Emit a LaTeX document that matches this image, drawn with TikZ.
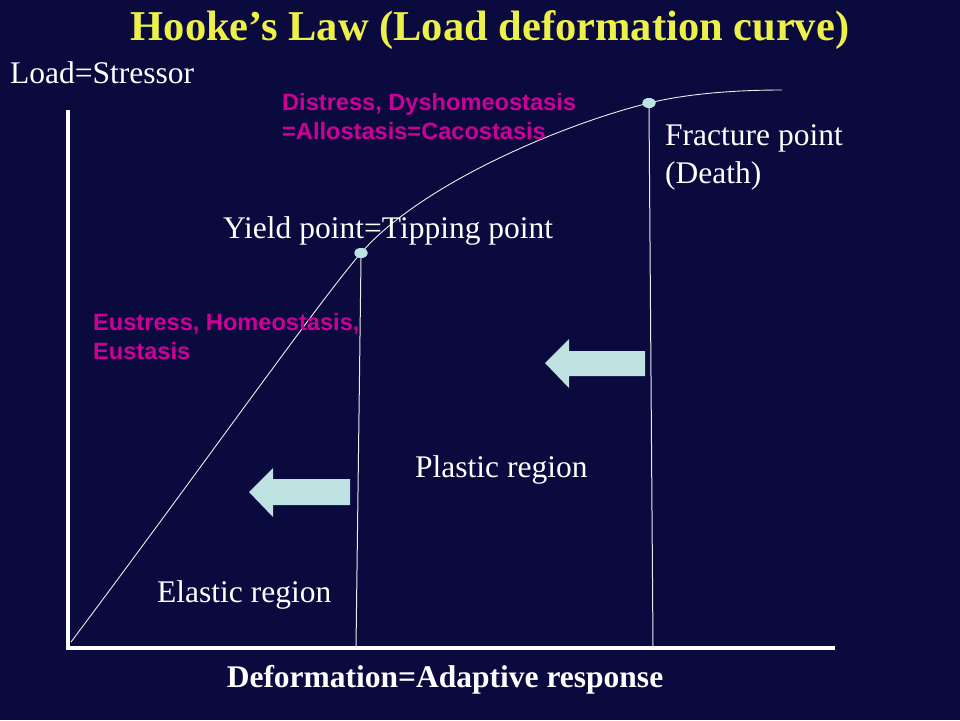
\documentclass[tikz,border=0pt]{standalone}
\usepackage{fontspec}
\setmainfont{Liberation Serif}
\newfontfamily\arialfont{Liberation Sans}
\definecolor{bgnavy}{RGB}{10,10,62}
\definecolor{titleyellow}{RGB}{236,240,72}
\definecolor{magtext}{RGB}{204,0,153}
\definecolor{paleblue}{RGB}{190,225,225}
\tikzset{
  serifw/.style={text=white,inner sep=0pt,anchor=base west,font=\fontsize{31.5}{36}\selectfont},
  magw/.style={text=magtext,inner sep=0pt,anchor=base west,font=\arialfont\bfseries\fontsize{23.6}{28}\selectfont},
  dotmark/.style={ellipse,fill=paleblue,minimum width=13pt,minimum height=10pt,inner sep=0pt},
  thinline/.style={draw=white!85!gray,line width=1pt},
  axisline/.style={draw=white,line width=3.2pt},
  blockarrow/.style={fill=paleblue}
}
\usetikzlibrary{shapes.geometric}
\begin{document}
\begin{tikzpicture}[x=1pt,y=-1pt]
\fill[bgnavy] (0,0) rectangle (960,720);
\useasboundingbox (0,0) rectangle (960,720);
% title
\node[text=titleyellow,inner sep=0pt,anchor=base,font=\bfseries\fontsize{42.5}{48}\selectfont] (title) at (490,40) {Hooke’s Law (Load deformation curve)};
% axes
\coordinate (ytop) at (68,110);
\coordinate (orig) at (68,648);
\coordinate (xend) at (835,648);
\draw[axisline] (ytop) -- (orig) -- (xend);
% points
\node[dotmark] (yield) at (361,253) {};
\node[dotmark] (fract) at (649,103) {};
\coordinate (c0) at (71,642);
\coordinate (cend) at (782,90);
\coordinate (yfoot) at (356,647);
\coordinate (ffoot) at (653,647);
% curve
\draw[thinline,line width=0.9pt] (c0) .. controls (200,470) and (320,300) .. (yield.center)
  .. controls (420,185) and (560,125) .. (fract.center)
  .. controls (690,93) and (740,90) .. (cend);
\draw[thinline] (yield.south) -- (yfoot);
\draw[thinline] (fract.south) -- (ffoot);
% redraw dots above curve
\node[dotmark] at (yield) {};
\node[dotmark] at (fract) {};
% labels
\node[serifw] (load) at (10,83) {Load=Stressor};
\node[magw] (dis1) at (282,110) {Distress, Dyshomeostasis};
\node[magw] (dis2) at (282,139) {=Allostasis=Cacostasis};
\node[serifw] (fr1) at (665,145) {Fracture point};
\node[serifw] (fr2) at (665,183) {(Death)};
\node[serifw] (yl) at (223,238) {Yield point=Tipping point};
\node[magw] (eu1) at (93,330) {Eustress, Homeostasis,};
\node[magw] (eu2) at (93,359) {Eustasis};
\node[serifw] (pl) at (415,477) {Plastic region};
\node[serifw] (el) at (157,602) {Elastic region};
\node[text=white,inner sep=0pt,anchor=base,font=\bfseries\fontsize{31.5}{36}\selectfont] (xl) at (445,687) {Deformation=Adaptive response};
% block arrows
\fill[blockarrow] (545,363) -- (569,339) -- (569,351) -- (645,351) -- (645,376) -- (569,376) -- (569,388) -- cycle;
\fill[blockarrow] (249,492) -- (273,468) -- (273,479) -- (350,479) -- (350,505) -- (273,505) -- (273,517) -- cycle;
\end{tikzpicture}
\end{document}
